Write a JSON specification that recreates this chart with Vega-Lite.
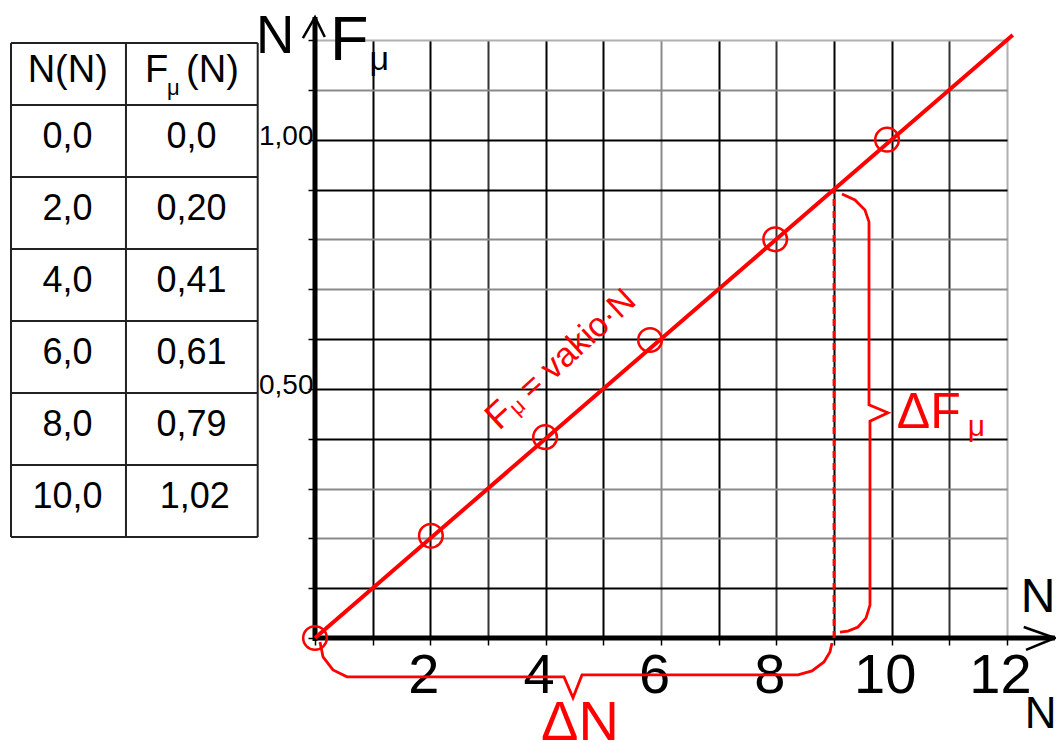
{
  "$schema": "https://vega.github.io/schema/vega-lite/v6.json",
  "width": 692,
  "height": 598,
  "autosize": "none",
  "padding": {"left": 315, "top": 40, "right": 49, "bottom": 105},
  "background": "white",
  "config": {"view": {"stroke": null}, "font": "Liberation Sans", "text": {"font": "Liberation Sans"}},
  "resolve": {"scale": {"x": "independent", "y": "independent"}},
  "layer": [
    {
      "encoding": {
        "x": {"field": "x", "type": "quantitative",
          "scale": {"domain": [0, 12], "nice": false, "zero": false},
          "axis": {"values": [0,1,2,3,4,5,6,7,8,9,10,11,12], "domain": false, "grid": true,
            "gridColor": {"condition": [{"test": "datum.value == 12", "value": "#b0b0b0"}, {"test": "datum.value == 6", "value": "#8a8a8a"}, {"test": "indexof([3,8,11], datum.value) >= 0", "value": "#333333"}], "value": "#000000"},
            "gridWidth": 2, "ticks": true, "tickSize": 7, "tickWidth": 1.5, "tickColor": "#000000",
            "labelExpr": "datum.value > 0 && datum.value % 2 == 0 ? datum.label : ''",
            "labelFont": "Liberation Sans", "labelFontSize": 56, "labelColor": "#000000", "labelBaseline": "top",
            "labelPadding": 3, "labelOffset": -7, "labelFlush": false, "labelOverlap": false, "title": null}},
        "y": {"field": "y", "type": "quantitative",
          "scale": {"domain": [0, 1.2], "nice": false, "zero": false},
          "axis": {"values": [0,0.1,0.2,0.3,0.4,0.5,0.6,0.7,0.8,0.9,1,1.1,1.2], "domain": false, "grid": true,
            "gridColor": {"condition": [{"test": "datum.value == 1.2", "value": "#b0b0b0"}, {"test": "indexof([0.2,0.3,0.7,0.8,1.1], datum.value) >= 0", "value": "#8a8a8a"}], "value": "#000000"},
            "gridWidth": 2, "ticks": true, "tickSize": 7, "tickWidth": 1.5, "tickColor": "#000000",
            "labelExpr": "datum.value == 1 ? '1,00' : datum.value == 0.5 ? '0,50' : ''",
            "labelFont": "Liberation Sans", "labelFontSize": 28, "labelColor": "#000000", "labelBaseline": "middle",
            "labelPadding": -5, "labelOffset": -3, "labelFlush": false, "labelOverlap": false, "title": null}}
      },
      "layer": [
        {"data": {"values": [{"x": 0, "y": -0.006, "y2": 1.246}]},
         "mark": {"type": "rule", "color": "#000000", "strokeWidth": 5},
         "encoding": {"y2": {"field": "y2"}}},
        {"data": {"values": [{"x": 0, "x2": 12.83, "y": 0}]},
         "mark": {"type": "rule", "color": "#000000", "strokeWidth": 5},
         "encoding": {"x2": {"field": "x2"}}},
        {"data": {"values": [
          {"g": "ya", "i": 0, "x": -0.21, "y": 1.204}, {"g": "ya", "i": 1, "x": 0, "y": 1.246}, {"g": "ya", "i": 2, "x": 0.17, "y": 1.206},
          {"g": "xa", "i": 0, "x": 12.29, "y": 0.022}, {"g": "xa", "i": 1, "x": 12.83, "y": 0}, {"g": "xa", "i": 2, "x": 12.33, "y": -0.024}]},
         "mark": {"type": "line", "color": "#000000", "strokeWidth": 2.5},
         "encoding": {"detail": {"field": "g", "type": "nominal"}, "order": {"field": "i", "type": "quantitative"}}},
        {"data": {"values": [{"x": 0, "y": 0}, {"x": 12.1, "y": 1.21}]},
         "mark": {"type": "line", "color": "#ff0000", "strokeWidth": 4},
         "encoding": {}},
        {"data": {"values": [{"x": 9, "y": 0, "y2": 0.9}]},
         "mark": {"type": "rule", "color": "#ff0000", "strokeWidth": 2.8, "strokeDash": [7, 5]},
         "encoding": {"y2": {"field": "y2"}}},
        {"data": {"values": [
          {"g": "dn", "i": 0, "x": 0.087, "y": -0.008}, {"g": "dn", "i": 1, "x": 0.139, "y": -0.038}, {"g": "dn", "i": 2, "x": 0.312, "y": -0.064},
          {"g": "dn", "i": 3, "x": 0.555, "y": -0.078}, {"g": "dn", "i": 4, "x": 4.318, "y": -0.078}, {"g": "dn", "i": 5, "x": 4.474, "y": -0.12},
          {"g": "dn", "i": 6, "x": 4.63, "y": -0.074}, {"g": "dn", "i": 7, "x": 8.375, "y": -0.074}, {"g": "dn", "i": 8, "x": 8.618, "y": -0.066},
          {"g": "dn", "i": 9, "x": 8.826, "y": -0.048}, {"g": "dn", "i": 10, "x": 8.93, "y": -0.028}, {"g": "dn", "i": 11, "x": 8.965, "y": -0.01},
          {"g": "df", "i": 0, "x": 9.138, "y": 0.891}, {"g": "df", "i": 1, "x": 9.364, "y": 0.879}, {"g": "df", "i": 2, "x": 9.537, "y": 0.859},
          {"g": "df", "i": 3, "x": 9.607, "y": 0.835}, {"g": "df", "i": 4, "x": 9.607, "y": 0.468}, {"g": "df", "i": 5, "x": 9.936, "y": 0.452},
          {"g": "df", "i": 6, "x": 9.624, "y": 0.435}, {"g": "df", "i": 7, "x": 9.624, "y": 0.066}, {"g": "df", "i": 8, "x": 9.554, "y": 0.04},
          {"g": "df", "i": 9, "x": 9.416, "y": 0.022}, {"g": "df", "i": 10, "x": 9.242, "y": 0.014}, {"g": "df", "i": 11, "x": 9.103, "y": 0.012}]},
         "mark": {"type": "line", "color": "#ff0000", "strokeWidth": 2.8},
         "encoding": {"detail": {"field": "g", "type": "nominal"}, "order": {"field": "i", "type": "quantitative"}}},
        {"data": {"values": [{"x": 0, "y": 0}, {"x": 2.01, "y": 0.205}, {"x": 3.99, "y": 0.403}, {"x": 5.81, "y": 0.598}, {"x": 7.98, "y": 0.8}, {"x": 9.92, "y": 1.0}]},
         "mark": {"type": "point", "shape": "circle", "filled": false, "color": "#ff0000", "size": 560, "strokeWidth": 2.5, "opacity": 1}},
        {"data": {"values": [{"x": -1.023, "y": 1.174, "t": "N"}]},
         "mark": {"type": "text", "fontSize": 53, "align": "left", "baseline": "alphabetic", "color": "#000000"},
         "encoding": {"text": {"field": "t"}}},
        {"data": {"values": [{"x": 0.26, "y": 1.16, "t": "F"}]},
         "mark": {"type": "text", "fontSize": 63, "align": "left", "baseline": "alphabetic", "color": "#000000"},
         "encoding": {"text": {"field": "t"}}},
        {"data": {"values": [{"x": 0.947, "y": 1.14, "t": "μ"}]},
         "mark": {"type": "text", "fontSize": 34, "align": "left", "baseline": "alphabetic", "color": "#000000"},
         "encoding": {"text": {"field": "t"}}},
        {"data": {"values": [{"x": 12.24, "y": 0.052, "t": "N"}]},
         "mark": {"type": "text", "fontSize": 48, "align": "left", "baseline": "alphabetic", "color": "#000000"},
         "encoding": {"text": {"field": "t"}}},
        {"data": {"values": [{"x": 12.306, "y": -0.18, "t": "N"}]},
         "mark": {"type": "text", "fontSize": 44, "align": "left", "baseline": "alphabetic", "color": "#000000"},
         "encoding": {"text": {"field": "t"}}},
        {"data": {"values": [{"x": 3.92, "y": -0.205, "t": "ΔN"}]},
         "mark": {"type": "text", "fontSize": 56, "align": "left", "baseline": "alphabetic", "color": "#ff0000"},
         "encoding": {"text": {"field": "t"}}},
        {"data": {"values": [{"x": 10.09, "y": 0.421, "t": "ΔF"}]},
         "mark": {"type": "text", "fontSize": 50, "align": "left", "baseline": "alphabetic", "color": "#ff0000"},
         "encoding": {"text": {"field": "t"}}},
        {"data": {"values": [{"x": 11.32, "y": 0.405, "t": "μ"}]},
         "mark": {"type": "text", "fontSize": 30, "align": "left", "baseline": "alphabetic", "color": "#ff0000"},
         "encoding": {"text": {"field": "t"}}},
        {"data": {"values": [{"x": 3.19, "y": 0.415, "t": "F"}]},
         "mark": {"type": "text", "fontSize": 37, "align": "left", "baseline": "alphabetic", "angle": -42.6, "color": "#ff0000"},
         "encoding": {"text": {"field": "t"}}},
        {"data": {"values": [{"x": 3.51, "y": 0.445, "t": "μ"}]},
         "mark": {"type": "text", "fontSize": 22, "align": "left", "baseline": "alphabetic", "angle": -42.6, "color": "#ff0000"},
         "encoding": {"text": {"field": "t"}}},
        {"data": {"values": [{"x": 5.6, "y": 0.672, "t": "= vakio·N"}]},
         "mark": {"type": "text", "fontSize": 34, "align": "right", "baseline": "alphabetic", "angle": -42.6, "color": "#ff0000"},
         "encoding": {"text": {"field": "t"}}}
      ]
    },
    {
      "encoding": {
        "x": {"field": "x", "type": "quantitative", "scale": {"domain": [2.4645, 8.0746], "nice": false, "zero": false}, "axis": null},
        "y": {"field": "y", "type": "quantitative", "scale": {"domain": [-0.9028, 7.4028], "nice": false, "zero": false, "reverse": true}, "axis": null}
      },
      "layer": [
        {"data": {"values": [{"y": -0.861, "x": 0, "x2": 2}, {"y": 0, "x": 0, "x2": 2}, {"y": 1, "x": 0, "x2": 2}, {"y": 2, "x": 0, "x2": 2}, {"y": 3, "x": 0, "x2": 2}, {"y": 4, "x": 0, "x2": 2}, {"y": 5, "x": 0, "x2": 2}, {"y": 6, "x": 0, "x2": 2}]},
         "mark": {"type": "rule", "color": "#222222", "strokeWidth": 2},
         "encoding": {"x2": {"field": "x2"}}},
        {"data": {"values": [{"x": 0, "y": -0.861, "y2": 6}, {"x": 0.932, "y": -0.861, "y2": 6}, {"x": 2, "y": -0.861, "y2": 6}]},
         "mark": {"type": "rule", "color": "#222222", "strokeWidth": 2},
         "encoding": {"y2": {"field": "y2"}}},
        {"data": {"values": [
          {"x": 0.458, "y": 0.6, "t": "0,0"}, {"x": 1.463, "y": 0.6, "t": "0,0"},
          {"x": 0.458, "y": 1.6, "t": "2,0"}, {"x": 1.463, "y": 1.6, "t": "0,20"},
          {"x": 0.458, "y": 2.6, "t": "4,0"}, {"x": 1.463, "y": 2.6, "t": "0,41"},
          {"x": 0.458, "y": 3.6, "t": "6,0"}, {"x": 1.463, "y": 3.6, "t": "0,61"},
          {"x": 0.458, "y": 4.6, "t": "8,0"}, {"x": 1.463, "y": 4.6, "t": "0,79"},
          {"x": 0.458, "y": 5.6, "t": "10,0"}, {"x": 1.49, "y": 5.6, "t": "1,02"}]},
         "mark": {"type": "text", "fontSize": 36, "align": "center", "baseline": "alphabetic", "color": "#000000"},
         "encoding": {"text": {"field": "t"}}},
        {"data": {"values": [{"x": 0.46, "y": -0.319, "t": "N(N)"}]},
         "mark": {"type": "text", "fontSize": 38, "align": "center", "baseline": "alphabetic", "color": "#000000"},
         "encoding": {"text": {"field": "t"}}},
        {"data": {"values": [{"x": 1.086, "y": -0.319, "t": "F"}, {"x": 1.419, "y": -0.319, "t": "(N)"}]},
         "mark": {"type": "text", "fontSize": 38, "align": "left", "baseline": "alphabetic", "color": "#000000"},
         "encoding": {"text": {"field": "t"}}},
        {"data": {"values": [{"x": 1.265, "y": -0.133, "t": "μ"}]},
         "mark": {"type": "text", "fontSize": 22, "align": "left", "baseline": "alphabetic", "color": "#000000"},
         "encoding": {"text": {"field": "t"}}}
      ]
    }
  ]
}
